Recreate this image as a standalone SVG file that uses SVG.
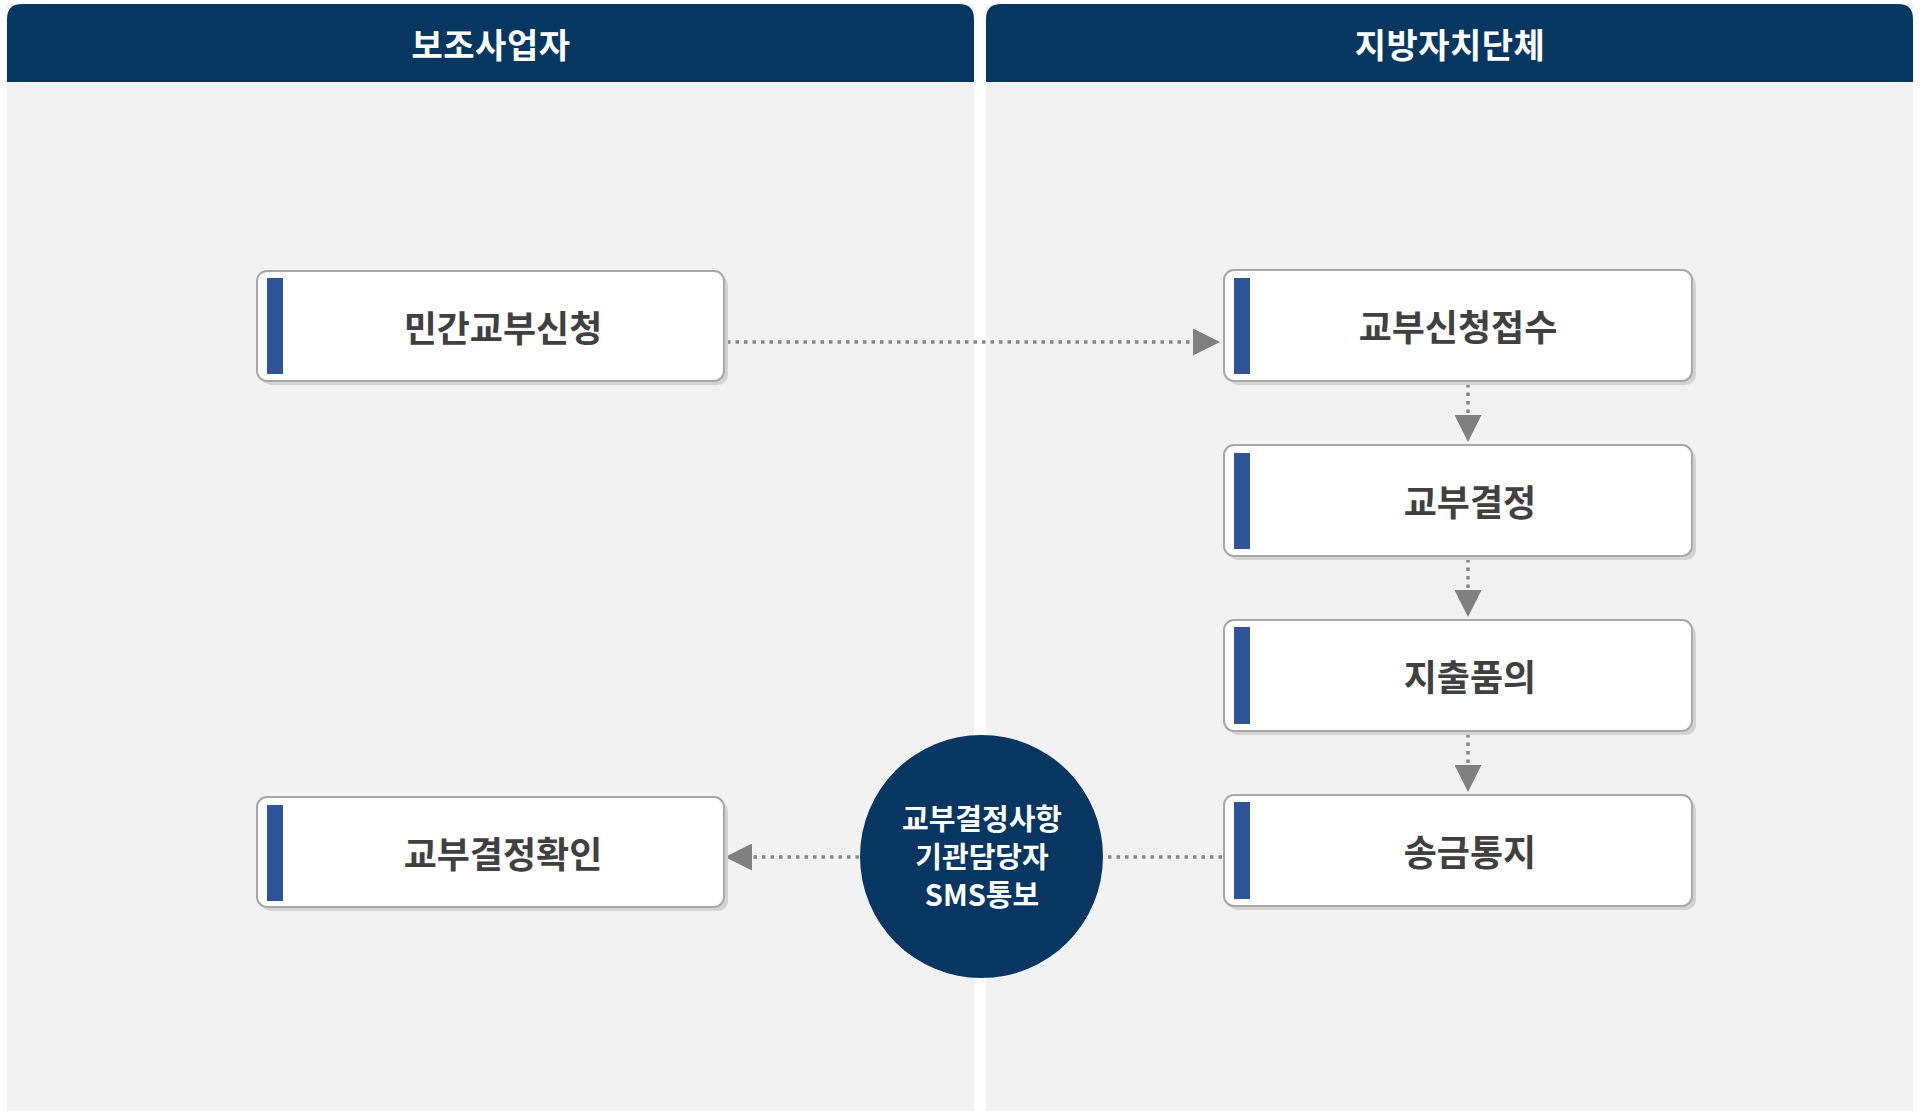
<svg xmlns="http://www.w3.org/2000/svg" width="1923" height="1111" viewBox="0 0 1923 1111">
<defs>
<style>
.lane{fill:#f2f2f2}
.head{fill:#063761}
.htxt{fill:#ffffff;font-family:"Noto Sans CJK KR","Noto Sans",sans-serif;font-weight:700;font-size:34px;letter-spacing:0.5px;text-anchor:middle}
.shadow{fill:#d3d3d3}
.box{fill:#ffffff;stroke:#a8a8a8;stroke-width:2}
.bar{fill:#2e5597}
.ntxt{fill:#404040;font-family:"Noto Sans CJK KR","Noto Sans",sans-serif;font-weight:700;font-size:36px;letter-spacing:0px;text-anchor:middle}
.circ{fill:#063661}
.ctxt{fill:#ffffff;font-family:"Noto Sans CJK KR","Noto Sans",sans-serif;font-weight:600;font-size:29px;letter-spacing:0px;text-anchor:middle}
.con{fill:none;stroke:#888888;stroke-width:3.5;stroke-dasharray:3.5 5}
</style>
<marker id="arr" viewBox="0 0 27 27" refX="0" refY="13.5" markerWidth="27" markerHeight="27" markerUnits="userSpaceOnUse" orient="auto">
<path d="M0,0 L27,13.5 L0,27 Z" fill="#808080"/>
</marker>
</defs>
<rect width="1923" height="1111" fill="#ffffff"/>
<g id="lane-left">
<rect class="lane" x="7" y="4" width="967" height="1107"/>
<path class="head" d="M7,82 L7,19 Q7,4 22,4 L959,4 Q974,4 974,19 L974,82 Z"/>
<text class="htxt" x="491" y="58">보조사업자</text>
</g>
<g id="lane-right">
<rect class="lane" x="986" y="4" width="927" height="1107"/>
<path class="head" d="M986,82 L986,19 Q986,4 1001,4 L1898,4 Q1913,4 1913,19 L1913,82 Z"/>
<text class="htxt" x="1450" y="58">지방자치단체</text>
</g>
<g id="connectors">
<line class="con" x1="727" y1="342" x2="1193" y2="342" marker-end="url(#arr)"/>
<line class="con" x1="1468" y1="384" x2="1468" y2="415" marker-end="url(#arr)"/>
<line class="con" x1="1468" y1="559" x2="1468" y2="590" marker-end="url(#arr)"/>
<line class="con" x1="1468" y1="734" x2="1468" y2="765" marker-end="url(#arr)"/>
<line class="con" x1="1222" y1="857" x2="1104" y2="857"/>
<line class="con" x1="859" y1="857" x2="752" y2="857" marker-end="url(#arr)"/>
</g>
<g id="node-apply">
<rect class="shadow" x="261" y="275" width="467" height="110" rx="10"/>
<rect class="box" x="257" y="271" width="467" height="110" rx="10"/>
<rect class="bar" x="267" y="278" width="16" height="96"/>
<text class="ntxt" x="503" y="342">민간교부신청</text>
</g>
<g id="node-receive">
<rect class="shadow" x="1228" y="274" width="468" height="111" rx="10"/>
<rect class="box" x="1224" y="270" width="468" height="111" rx="10"/>
<rect class="bar" x="1234" y="278" width="16" height="96"/>
<text class="ntxt" x="1458" y="341">교부신청접수</text>
</g>
<g id="node-decide">
<rect class="shadow" x="1228" y="449" width="468" height="111" rx="10"/>
<rect class="box" x="1224" y="445" width="468" height="111" rx="10"/>
<rect class="bar" x="1234" y="453" width="16" height="96"/>
<text class="ntxt" x="1470" y="516">교부결정</text>
</g>
<g id="node-expense">
<rect class="shadow" x="1228" y="624" width="468" height="111" rx="10"/>
<rect class="box" x="1224" y="620" width="468" height="111" rx="10"/>
<rect class="bar" x="1234" y="627" width="16" height="97"/>
<text class="ntxt" x="1470" y="691">지출품의</text>
</g>
<g id="node-remit">
<rect class="shadow" x="1228" y="799" width="468" height="111" rx="10"/>
<rect class="box" x="1224" y="795" width="468" height="111" rx="10"/>
<rect class="bar" x="1234" y="802" width="16" height="97"/>
<text class="ntxt" x="1470" y="866">송금통지</text>
</g>
<g id="node-confirm">
<rect class="shadow" x="261" y="801" width="467" height="110" rx="10"/>
<rect class="box" x="257" y="797" width="467" height="110" rx="10"/>
<rect class="bar" x="267" y="805" width="16" height="96"/>
<text class="ntxt" x="503" y="868">교부결정확인</text>
</g>
<g id="node-sms">
<circle class="circ" cx="981.5" cy="856.5" r="121.5"/>
<text class="ctxt" x="982" y="830">교부결정사항</text>
<text class="ctxt" x="982" y="868">기관담당자</text>
<text class="ctxt" x="982" y="906">SMS통보</text>
</g>
</svg>
